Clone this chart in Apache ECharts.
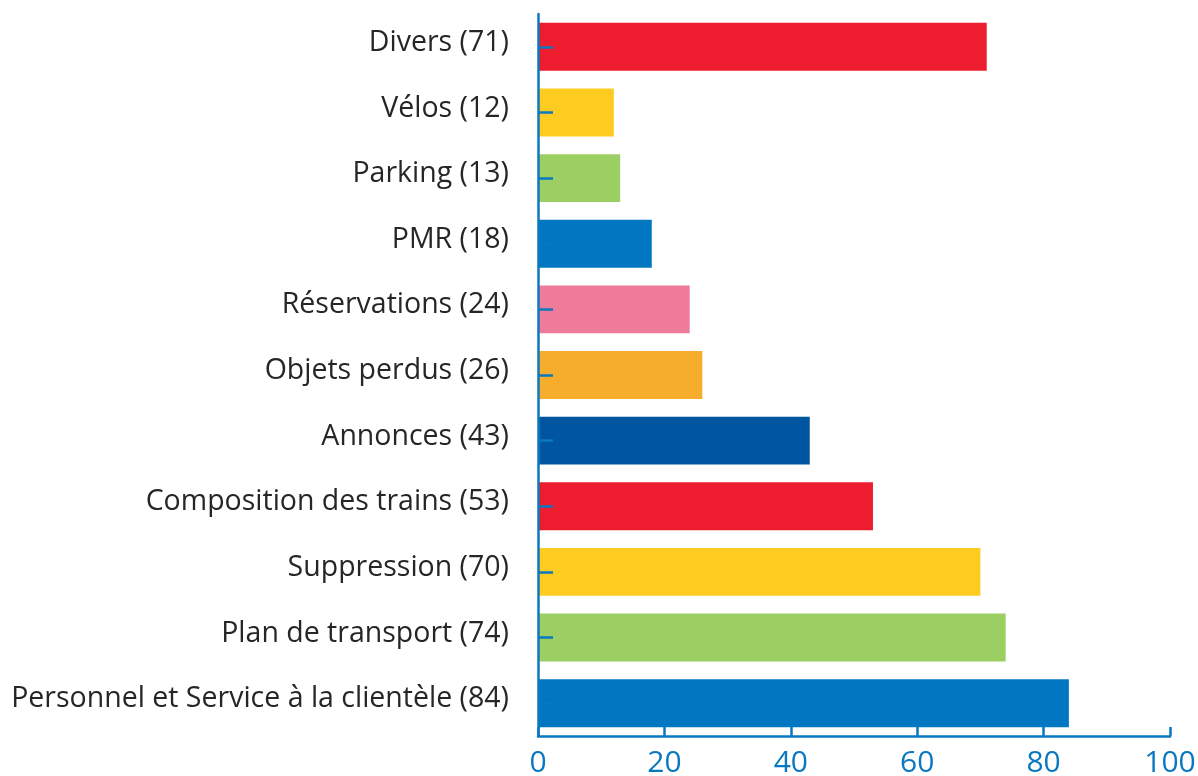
<!DOCTYPE html>
<html>
<head>
<meta charset="utf-8">
<script src="https://cdn.jsdelivr.net/npm/echarts@6/dist/echarts.min.js"></script>
<style>
html, body { margin: 0; padding: 0; background: #fff; }
#chart { width: 1198px; height: 776px; }
</style>
</head>
<body>
<div id="chart"></div>
<script>
// bottom to top, as the category axis draws them
var categories = [
    'Personnel et Service à la clientèle (84)',
    'Plan de transport (74)',
    'Suppression (70)',
    'Composition des trains (53)',
    'Annonces (43)',
    'Objets perdus (26)',
    'Réservations (24)',
    'PMR (18)',
    'Parking (13)',
    'Vélos (12)',
    'Divers (71)'
];
var values = [84, 74, 70, 53, 43, 26, 24, 18, 13, 12, 71];
var barColors = ['#0077c0', '#9ccf63', '#fecb21', '#ed1c2e', '#0055a0', '#f6ad2c', '#ef7b9b', '#0077c0', '#9ccf63', '#fecb21', '#ed1c2e'];

var axisBlue = '#0a78c0';

var option = {
    animation: false,
    grid: { left: 538, right: 28, top: 14, bottom: 40, outerBoundsMode: 'none' },
    xAxis: {
        type: 'value',
        min: 0,
        max: 100,
        interval: 20,
        z: 5,
        splitLine: { show: false },
        axisLine: { show: true, lineStyle: { color: axisBlue, width: 2.5 } },
        axisTick: { show: true, inside: true, length: 9, lineStyle: { color: axisBlue, width: 2.5 } },
        axisLabel: { color: axisBlue, fontSize: 30, fontFamily: 'Open Sans', margin: 12 }
    },
    yAxis: {
        type: 'category',
        data: categories,
        z: 5,
        axisLine: { show: true, lineStyle: { color: axisBlue, width: 2.5 } },
        axisTick: { show: true, inside: true, alignWithLabel: true, length: 15, lineStyle: { color: axisBlue, width: 2.5 } },
        axisLabel: {
            color: '#262626', fontSize: 28.5, fontFamily: 'Open Sans', margin: 29,
            verticalAlign: 'bottom', lineHeight: 8
        }
    },
    series: [{
        type: 'bar',
        data: values,
        barCategoryGap: '27%',
        itemStyle: {
            color: function (p) { return barColors[p.dataIndex]; }
        }
    }]
};

var chart = echarts.init(document.getElementById('chart'));
chart.setOption(option);
</script>
</body>
</html>
